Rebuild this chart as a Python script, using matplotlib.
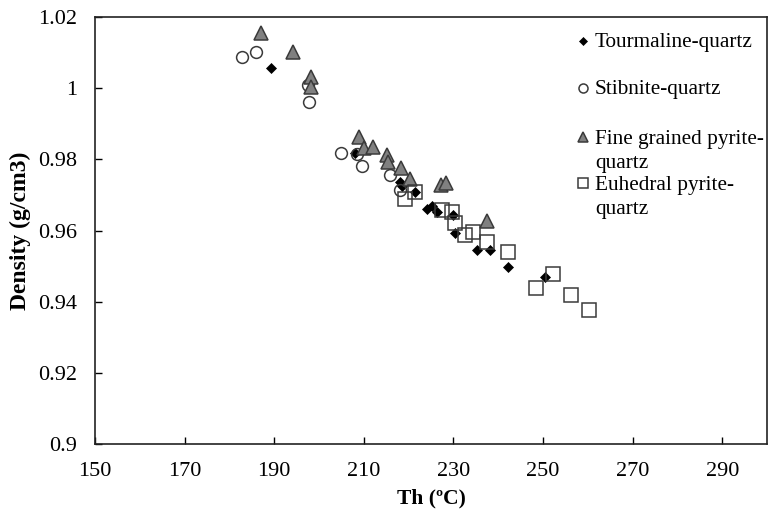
import matplotlib
matplotlib.use("Agg")
import matplotlib.pyplot as plt

plt.rcParams['font.family'] = ['Liberation Serif', 'DejaVu Serif']

# Th (degC) / density (g/cm3) for each vein type
tour_th = [189.3, 208.0, 218.1, 218.6, 221.4, 224.1, 225.2, 226.3, 230.0, 230.4, 235.3, 238.2, 242.2, 250.4]
tour_d = [1.0057, 0.9818, 0.9736, 0.9725, 0.9708, 0.9660, 0.9668, 0.9652, 0.9644, 0.9593, 0.9545, 0.9545, 0.9497, 0.9470]

stib_th = [182.8, 185.9, 197.5, 197.8, 204.9, 208.5, 209.6, 215.8, 218.0]
stib_d = [1.0088, 1.0102, 1.0010, 0.9961, 0.9818, 0.9815, 0.9780, 0.9756, 0.9714]

fine_th = [187.1, 194.2, 198.2, 198.2, 208.9, 210.0, 212.0, 215.2, 215.4, 218.3, 220.3, 227.2, 228.3, 237.5]
fine_d = [1.0155, 1.0102, 1.0031, 1.0003, 0.9863, 0.9832, 0.9835, 0.9812, 0.9793, 0.9776, 0.9745, 0.9728, 0.9734, 0.9627]

euh_th = [219.2, 221.4, 227.5, 229.7, 230.4, 232.6, 234.4, 237.5, 242.2, 248.4, 252.2, 256.3, 260.3]
euh_d = [0.9689, 0.9708, 0.9658, 0.9652, 0.9621, 0.9587, 0.9596, 0.9568, 0.9540, 0.9438, 0.9478, 0.9419, 0.9377]

labels = ["Tourmaline-quartz", "Stibnite-quartz", "Fine grained pyrite-\nquartz", "Euhedral pyrite-\nquartz"]

x_ticks = list(range(150, 291, 20))
y_ticks = [0.9, 0.92, 0.94, 0.96, 0.98, 1.0, 1.02]
y_tick_labels = ["0.9", "0.92", "0.94", "0.96", "0.98", "1", "1.02"]

fig = plt.figure(figsize=(7.69, 5.12), dpi=100)
ax = fig.add_axes([0.1235, 0.1328, 0.874, 0.834])

edge = '#3a3a3a'
styles = [
    dict(marker='D', ms=5, mfc='black', mec='black', mew=0.5),
    dict(marker='o', ms=8.5, mfc='none', mec=edge, mew=1.1),
    dict(marker='^', ms=10, mfc='#808080', mec=edge, mew=1.1),
    dict(marker='s', ms=10.5, mfc='none', mec=edge, mew=1.1),
]
series = [(tour_th, tour_d), (stib_th, stib_d), (fine_th, fine_d), (euh_th, euh_d)]

for (xs, ys), st in zip(series, styles):
    ax.plot(xs, ys, linestyle='none', **st)

ax.set_xlim(150, 300)
ax.set_ylim(0.9, 1.02)
ax.set_xticks(x_ticks)
ax.set_yticks(y_ticks)
ax.set_yticklabels(y_tick_labels)
ax.tick_params(direction='in', labelsize=16, length=5, width=1, pad=13)
for sp in ax.spines.values():
    sp.set_linewidth(1.2)
    sp.set_color('#222222')

ax.set_xlabel("Th (ºC)", fontsize=15.5, fontweight='bold', labelpad=5)
ax.set_ylabel("Density (g/cm3)", fontsize=17, fontweight='bold', labelpad=5)

# legend, drawn by hand so markers sit on the first text line like in Excel
legend_ms = [4, 6.5, 7.5, 6.5]
rows = [0.944, 0.834, 0.719, 0.611]
for lab, st, ms, yy in zip(labels, styles, legend_ms, rows):
    s = dict(st)
    s['ms'] = ms
    ax.plot([0.7265], [yy], transform=ax.transAxes, linestyle='none', clip_on=False, **s)
    ax.text(0.744, yy + 0.0175, lab, transform=ax.transAxes, fontsize=15.3, va='top',
            ha='left', linespacing=1.4)

fig.savefig("out.png", dpi=100)
